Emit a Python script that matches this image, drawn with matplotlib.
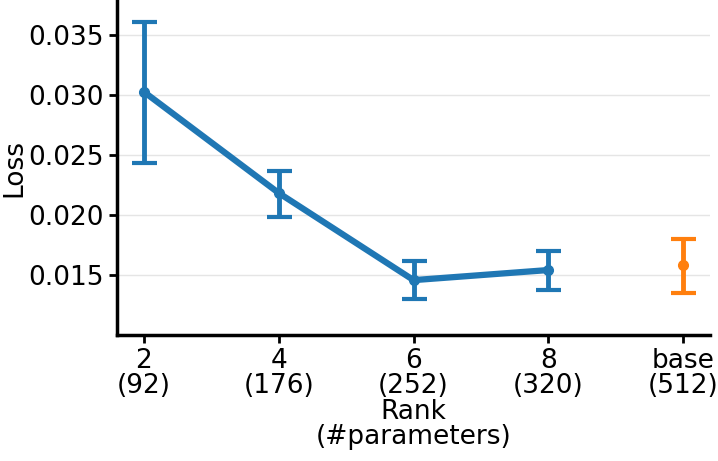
import numpy as np
import matplotlib
matplotlib.use("Agg")
import matplotlib.pyplot as plt

ranks = ["2\n(92)", "4\n(176)", "6\n(252)", "8\n(320)"]
loss = [0.03025, 0.02183, 0.01458, 0.01542]
loss_lo = [0.02433, 0.01983, 0.01300, 0.01375]
loss_hi = [0.03610, 0.02367, 0.01617, 0.01700]

base_label = "base\n(512)"
base_loss = 0.01583
base_lo = 0.01350
base_hi = 0.01800

plt.rcParams["font.size"] = 19

fig = plt.figure(figsize=(7.18, 4.61), dpi=100)
ax = fig.add_axes([0.163, 0.273, 0.826, 0.727])

x = np.arange(len(ranks))
yerr = [np.array(loss) - np.array(loss_lo), np.array(loss_hi) - np.array(loss)]
ax.errorbar(x, loss, yerr=yerr, color="#1f77b4", lw=4.5, marker="o", ms=7,
            elinewidth=3.5, capsize=9, capthick=3)
ax.errorbar([len(ranks)], [base_loss],
            yerr=[[base_loss - base_lo], [base_hi - base_loss]],
            color="#ff7f0e", marker="o", ms=7, elinewidth=3.5, capsize=9,
            capthick=3, ls="none")

ax.set_xticks(list(x) + [len(ranks)])
ax.set_xticklabels(ranks + [base_label], linespacing=0.95)
ax.set_xlim(-0.2, 4.2)
ax.set_ylim(0.010, 0.0379)
ax.set_yticks([0.015, 0.020, 0.025, 0.030, 0.035])
ax.set_yticklabels(["0.015", "0.020", "0.025", "0.030", "0.035"])
ax.grid(axis="y", color="#e5e5e5", lw=1)
ax.set_axisbelow(True)
ax.set_xlabel("Rank\n(#parameters)", labelpad=0, linespacing=0.95)
ax.set_ylabel("Loss", labelpad=1)

for s in ["top", "right"]:
    ax.spines[s].set_visible(False)
for s in ["left", "bottom"]:
    ax.spines[s].set_linewidth(2.5)
ax.tick_params(width=2, length=6)

fig.savefig("out.png", dpi=100)
